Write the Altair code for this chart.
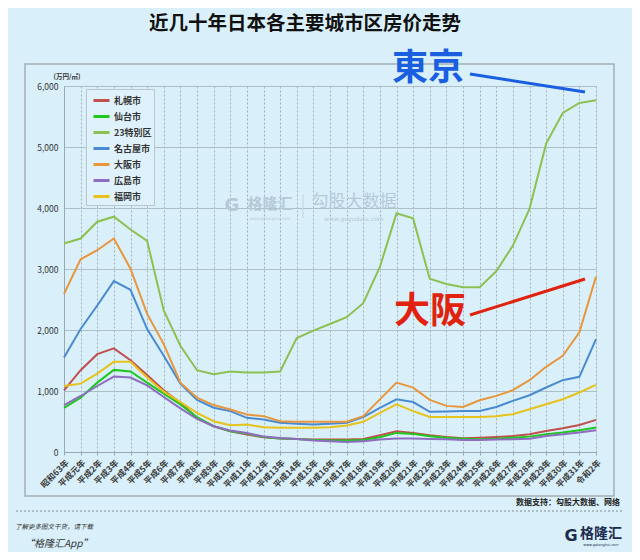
import altair as alt
import pandas as pd

years = ["昭和63年", "平成元年"] + [f"平成{i}年" for i in range(2, 32)] + ["令和2年"]

cities = ["札幌市", "仙台市", "23特別区", "名古屋市", "大阪市", "広島市", "福岡市"]
colors = ["#c0504d", "#1fc81f", "#8cc152", "#4a8ad0", "#e8963c", "#8e6cc0", "#e6c21a"]

sapporo = [1011, 1341, 1604, 1698, 1505, 1264, 1011, 808, 560, 423, 341, 286, 242, 220, 214, 203, 203,
           203, 214, 275, 341, 313, 275, 246, 225, 235, 246, 263, 290, 345, 389, 444, 526]
sendai = [725, 890, 1137, 1346, 1319, 1137, 956, 780, 571, 423, 341, 302, 247, 220, 214, 198, 187,
          187, 198, 242, 313, 297, 260, 235, 219, 208, 219, 235, 252, 290, 318, 356, 400]
tokyo23 = [3418, 3500, 3775, 3857, 3648, 3462, 2319, 1742, 1341, 1275, 1319, 1302, 1302, 1319, 1868, 1989, 2099,
           2209, 2440, 3033, 3912, 3830, 2840, 2755, 2700, 2700, 2963, 3384, 3987, 5055, 5559, 5723, 5767]
nagoya = [1549, 2016, 2401, 2802, 2659, 2016, 1577, 1121, 852, 725, 670, 560, 533, 478, 462, 451, 462,
          478, 571, 725, 863, 819, 658, 663, 674, 674, 739, 838, 931, 1057, 1177, 1232, 1851]
osaka = [2593, 3159, 3308, 3500, 3005, 2264, 1769, 1137, 890, 769, 698, 615, 588, 505, 495, 495, 495,
         495, 588, 863, 1137, 1055, 855, 756, 739, 849, 920, 1013, 1177, 1396, 1577, 1961, 2875]
hiroshima = [769, 918, 1082, 1236, 1220, 1093, 901, 714, 544, 423, 352, 313, 253, 231, 214, 187, 176,
             165, 176, 203, 220, 220, 214, 208, 197, 197, 203, 208, 219, 263, 290, 318, 356]
fukuoka = [1082, 1121, 1286, 1478, 1478, 1220, 989, 819, 643, 505, 440, 451, 407, 396, 396, 396, 407,
           434, 495, 643, 780, 670, 573, 575, 575, 575, 586, 619, 701, 783, 865, 975, 1101]
y_ticks = [0, 1000, 2000, 3000, 4000, 5000, 6000]

series = [sapporo, sendai, tokyo23, nagoya, osaka, hiroshima, fukuoka]
rows = []
for c, vals in zip(cities, series):
    for y, v in zip(years, vals):
        rows.append({"city": c, "year": y, "value": v})
df = pd.DataFrame(rows)

JP = "Noto Sans CJK JP"
SC = "Noto Sans CJK SC"
one = alt.Data(values=[{}])

lines = alt.Chart(df).mark_line(strokeWidth=2).encode(
    x=alt.X("year:N", sort=years, scale=alt.Scale(padding=0),
            axis=alt.Axis(title=None, labelAngle=315, labelFontSize=8.5, labelFontWeight="bold",
                          labelColor="#3c3c3c", labelFont=JP, grid=True, gridDash=[2, 2],
                          gridColor="#a3b1b8", tickSize=3, tickColor="#9aa7ad",
                          domainColor="#9aa7ad", labelPadding=3)),
    y=alt.Y("value:Q", scale=alt.Scale(domain=[0, 6000]),
            axis=alt.Axis(title=None, values=y_ticks, format=",.0f",
                          labelFontSize=8.5, labelColor="#333333", gridColor="#adbec7",
                          domainColor="#9aa7ad", tickSize=0, labelPadding=6)),
    color=alt.Color("city:N", sort=cities,
                    scale=alt.Scale(domain=cities, range=colors),
                    legend=alt.Legend(title=None, orient="none", legendX=22, legendY=3,
                                      symbolType="stroke", symbolSize=256, symbolStrokeWidth=3,
                                      symbolOffset=4, labelOffset=3,
                                      labelFontSize=9, labelFontWeight="bold", labelColor="#333333",
                                      labelFont=JP, fillColor="#dff2fb", strokeColor="#b9c6cc",
                                      padding=2, rowPadding=0)),
    order=alt.Order("city:N"),
)


def txt(text, x, y, size, color="#000000", weight="normal", align="center", font=JP, italic=False,
        opacity=1.0, baseline="middle"):
    kw = dict(text=text, fontSize=size, color=color, fontWeight=weight, align=align, font=font,
              baseline=baseline, opacity=opacity)
    if italic:
        kw["fontStyle"] = "italic"
    return alt.Chart(one).mark_text(**kw).encode(x=alt.value(x), y=alt.value(y))


def seg(x1, y1, x2, y2, color, width, dash=None):
    kw = dict(color=color, strokeWidth=width)
    if dash:
        kw["strokeDash"] = dash
    return alt.Chart(one).mark_rule(**kw).encode(
        x=alt.value(x1), y=alt.value(y1), x2=alt.value(x2), y2=alt.value(y2))


frame = alt.Chart(one).mark_rect(filled=False, stroke="#a4afb4", strokeWidth=1.5).encode(
    x=alt.value(-39), x2=alt.value(550), y=alt.value(-22), y2=alt.value(410))

layers = [
    frame,
    # watermark
    txt("G", 168, 120, 18, "#b5c9d8", "bold", font="DejaVu Sans"),
    txt("格隆汇", 206, 118, 15, "#b5c9d8", "bold", font=SC),
    txt("www.gelonghui.com", 206, 131, 4, "#b5c9d8", font="DejaVu Sans", baseline="top"),
    seg(239, 108, 239, 132, "#c3d3de", 1),
    txt("勾股大数据", 290, 116, 17, "#b5c9d8", font=SC),
    txt("www.gogudata.com", 290, 130, 6, "#b5c9d8", font="DejaVu Sans", baseline="top"),
    lines,
    txt("(万円/㎡)", 3, -9, 6.5, "#333333", "bold"),
    # annotations
    txt("東京", 364, -17, 36, "#1a5fe0", "bold"),
    seg(406, -12, 521, 6, "#1a5fe0", 3),
    txt("大阪", 366, 226, 36, "#e0220e", "bold"),
    seg(406, 229, 521, 193, "#e0220e", 3),
    # title and footer
    txt("近几十年日本各主要城市区房价走势", 241, -62, 19.5, "#111111", "bold", font=SC),
    txt("数据支持：勾股大数据、网络", 556, 417, 8, "#222222", "bold", align="right", font=SC),
    seg(-48, 425, 559, 425, "#7f8a8f", 1, [2, 2]),
    txt("了解更多图文干货，请下载", -49, 441, 6.5, "#333333", align="left", font=SC, italic=True),
    txt("“格隆汇App”", -40, 458, 10, "#333333", align="left", font=SC, italic=True),
    txt("G", 507, 450, 16, "#1d2b4f", "bold", font="DejaVu Sans"),
    txt("格隆汇", 537, 448, 14, "#1d2b4f", "bold", font=SC),
    txt("www.gelonghui.com", 537, 457, 3.5, "#1d2b4f", font="DejaVu Sans", baseline="top"),
]

chart = alt.layer(*layers).properties(
    width=532, height=366,
    autosize=alt.AutoSizeParams(type="none"),
    padding={"left": 56, "top": 78, "right": 36, "bottom": 100},
    background="#d9f0fa",
).configure_view(stroke=None).configure(font=JP)

chart.save("out.html", embed_options={"renderer": "svg", "actions": False})
